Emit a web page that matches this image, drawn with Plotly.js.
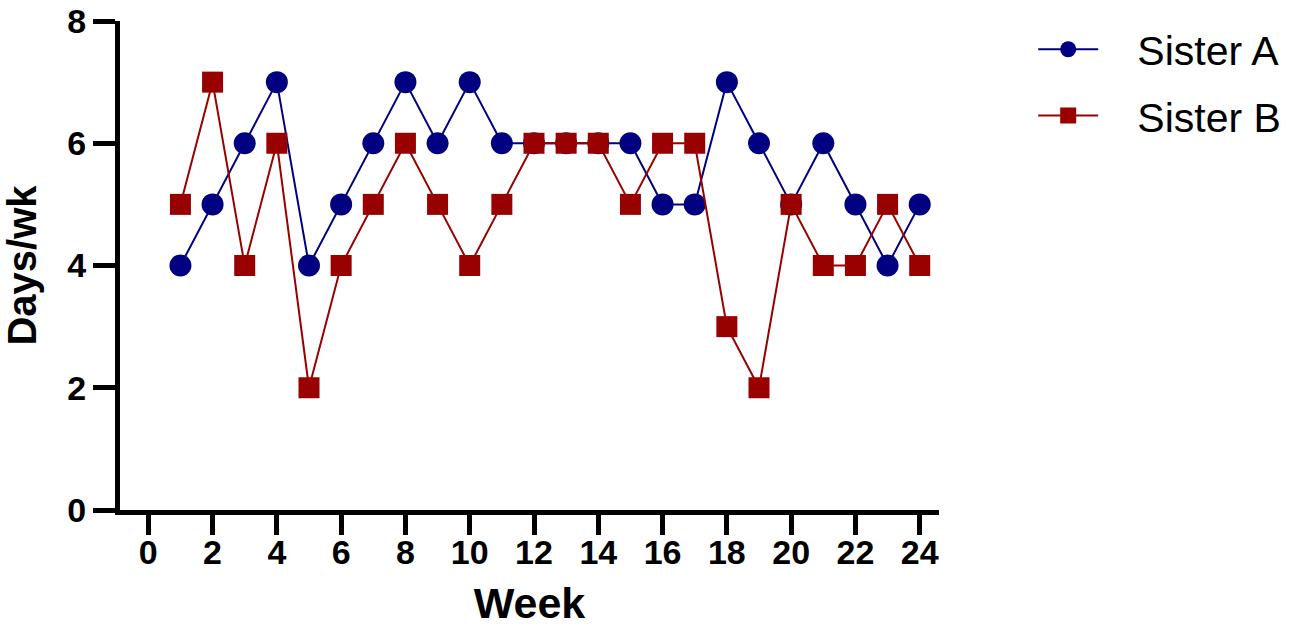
<!DOCTYPE html>
<html>
<head>
<meta charset="utf-8">
<script src="https://cdn.plot.ly/plotly-3.0.1.min.js"></script>
<style>
  html, body { margin: 0; padding: 0; background: #fff; }
  #chart { width: 1295px; height: 628px; }
</style>
</head>
<body>
<div id="chart"></div>
<script>
// data
var weeks = [1,2,3,4,5,6,7,8,9,10,11,12,13,14,15,16,17,18,19,20,21,22,23,24]
var sisterA = [4,5,6,7,4,5,6,7,6,7,6,6,6,6,6,5,5,7,6,5,6,5,4,5]
var sisterB = [5,7,4,6,2,4,5,6,5,4,5,6,6,6,5,6,6,3,2,5,4,4,5,4]
var xTicks = [0,2,4,6,8,10,12,14,16,18,20,22,24]
var yTicks = [0,2,4,6,8]

var navy = '#000080'
	darkred = '#990000'
	fam = 'Liberation Sans, Arial, sans-serif'
	tickFont = {family: fam, size: 34, color: '#000', weight: 'bold'}
	pad = '\u00a0\u00a0\u00a0'

var traceA = {
	x: weeks,
	y: sisterA,
	name: pad + 'Sister A',
	legendgroup: 'a',
	mode: 'lines+markers',
	type: 'scatter',
	line: {color: navy, width: 2},
	marker: {symbol: 'circle', size: 22, color: navy},
	cliponaxis: false
}

var traceB = {
	x: weeks,
	y: sisterB,
	name: pad + 'Sister B',
	legendgroup: 'b',
	mode: 'lines+markers',
	type: 'scatter',
	line: {color: darkred, width: 2},
	marker: {symbol: 'square', size: 21, color: darkred},
	cliponaxis: false
}

var layout = {
	width: 1295,
	height: 628,
	// fixed margins, the legend must not push the plot
	margin: {l: 120, r: 356, t: 21, b: 118, pad: 0, autoexpand: false},
	paper_bgcolor: '#fff',
	plot_bgcolor: '#fff',
	showlegend: true,
	legend: {
		x: 1.115,
		xanchor: 'left',
		y: 1.01,
		yanchor: 'top',
		font: {family: fam, size: 41, color: '#000'},
		itemwidth: 60,
		traceorder: 'grouped',
		tracegroupgap: 10,
		bgcolor: 'rgba(0,0,0,0)'
	},
	xaxis: {
		range: [-0.88, 24.6],
		tickvals: xTicks,
		ticktext: xTicks.map(String),
		showgrid: false,
		zeroline: false,
		showline: true,
		linecolor: '#000',
		linewidth: 5,
		ticks: 'outside',
		ticklen: 20,
		tickwidth: 5,
		tickcolor: '#000',
		tickfont: tickFont,
		ticklabelstandoff: -12,
		ticklabeloverflow: 'allow',
		title: {text: 'Week', font: {family: fam, size: 43, color: '#000', weight: 'bold'}, standoff: 20}
	},
	yaxis: {
		range: [0, 8],
		tickvals: yTicks,
		ticktext: yTicks.map(String),
		showgrid: false,
		zeroline: false,
		showline: true,
		linecolor: '#000',
		linewidth: 5,
		ticks: 'outside',
		ticklen: 22,
		tickwidth: 5,
		tickcolor: '#000',
		tickfont: tickFont,
		ticklabeloverflow: 'allow',
		title: {text: 'Days/wk', font: {family: fam, size: 40, color: '#000', weight: 'bold'}, standoff: 24}
	}
}

Plotly.newPlot('chart', [traceA, traceB], layout, {displayModeBar: false, staticPlot: true})
</script>
</body>
</html>
